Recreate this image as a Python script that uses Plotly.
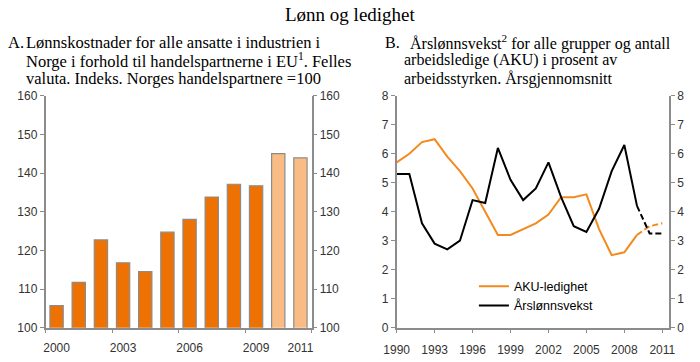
import plotly.graph_objects as go

# ---- data ----
years_a = [2000, 2001, 2002, 2003, 2004, 2005, 2006, 2007, 2008, 2009, 2010, 2011]
lonnskost = [105.7, 111.7, 122.7, 116.8, 114.5, 124.7, 128.0, 133.8, 137.1, 136.7, 145.0, 143.9]
forecast_from_a = 2010
tick_years_a = [2000, 2003, 2006, 2009, 2011]

years_b = list(range(1990, 2012))
aku = [5.7, 6.0, 6.4, 6.5, 5.9, 5.4, 4.8, 4.0, 3.2, 3.2, 3.4, 3.6, 3.9, 4.5, 4.5, 4.6,
       3.4, 2.5, 2.6, 3.2, 3.5, 3.6]
lonnsvekst = [5.3, 5.3, 3.6, 2.9, 2.7, 3.0, 4.4, 4.3, 6.2, 5.1, 4.4, 4.8, 5.7, 4.5, 3.5, 3.3,
              4.1, 5.4, 6.3, 4.2, 3.25, 3.25]
forecast_from_b = 2009
tick_years_b = [1990, 1993, 1996, 1999, 2002, 2005, 2008, 2011]

ORANGE = "#EE7203"
LIGHT = "#F9BC84"
LINE_OR = "#F28A1E"
AX = "#8C8C8C"
TXT = "#333333"
SANS = "Liberation Sans, Arial, sans-serif"
SERIF = "Liberation Serif, Times New Roman, serif"
DASH = "6px,3px"

fig = go.Figure()

colors = [LIGHT if y >= forecast_from_a else ORANGE for y in years_a]
fig.add_trace(go.Bar(x=years_a, y=lonnskost, marker=dict(color=colors, line=dict(color=AX, width=1.2)),
                     width=0.6, showlegend=False, xaxis="x", yaxis="y"))
# helper invisible traces for secondary axes
fig.add_trace(go.Scatter(x=[years_a[0]], y=[lonnskost[0]], mode="markers", marker=dict(opacity=0),
                         showlegend=False, hoverinfo="skip", xaxis="x", yaxis="y3"))
fig.add_trace(go.Scatter(x=[years_a[0]], y=[lonnskost[0]], mode="markers", marker=dict(opacity=0),
                         showlegend=False, hoverinfo="skip", xaxis="x3", yaxis="y"))

i0 = years_b.index(forecast_from_b)
fig.add_trace(go.Scatter(x=years_b[:i0 + 1], y=aku[:i0 + 1], mode="lines", name="AKU-ledighet",
                         line=dict(color=LINE_OR, width=2), xaxis="x2", yaxis="y2"))
fig.add_trace(go.Scatter(x=years_b[i0:], y=aku[i0:], mode="lines", showlegend=False,
                         line=dict(color=LINE_OR, width=2, dash=DASH), xaxis="x2", yaxis="y2"))
fig.add_trace(go.Scatter(x=years_b[:i0 + 1], y=lonnsvekst[:i0 + 1], mode="lines", name="Årslønnsvekst",
                         line=dict(color="#000000", width=2), xaxis="x2", yaxis="y2"))
fig.add_trace(go.Scatter(x=years_b[i0:], y=lonnsvekst[i0:], mode="lines", showlegend=False,
                         line=dict(color="#000000", width=2, dash=DASH), xaxis="x2", yaxis="y2"))
fig.add_trace(go.Scatter(x=[years_b[0]], y=[aku[0]], mode="markers", marker=dict(opacity=0),
                         showlegend=False, hoverinfo="skip", xaxis="x2", yaxis="y4"))

ydom = [0.0948, 0.7356]
common = dict(showgrid=False, zeroline=False, showline=True, linecolor=AX, linewidth=1.5, automargin=False,
              tickcolor=AX, ticklen=4, tickwidth=1, tickfont=dict(family=SANS, size=12, color=TXT))

fig.update_layout(
    width=700, height=362, margin=dict(l=0, r=0, t=0, b=0, autoexpand=False),
    paper_bgcolor="white", plot_bgcolor="white",
    xaxis=dict(domain=[0.065, 0.445], range=[1999.5, 2011.5], tickmode="array", tickvals=tick_years_a,
               ticks="", anchor="y", ticklabelstandoff=8, **common),
    xaxis3=dict(domain=[0.065, 0.445], range=[1999.5, 2011.5], overlaying="x", anchor="y",
                tickmode="linear", tick0=1999.5, dtick=3, ticks="outside", showticklabels=False,
                automargin=False, showgrid=False, zeroline=False, showline=False, tickcolor=AX, ticklen=4),
    yaxis=dict(domain=ydom, range=[100, 160], dtick=10, ticks="outside", anchor="x", **common),
    yaxis3=dict(domain=ydom, range=[100, 160], dtick=10, ticks="outside", anchor="x",
                overlaying="y", side="right", **common),
    xaxis2=dict(domain=[0.5667, 0.9557], range=[1990, 2011.53], tickmode="array", tickvals=tick_years_b,
                ticks="outside", anchor="y2", ticklabelstandoff=6, **common),
    yaxis2=dict(domain=ydom, range=[0, 8], dtick=1, ticks="outside", anchor="x2", **common),
    yaxis4=dict(domain=ydom, range=[0, 8], dtick=1, ticks="outside", anchor="x2",
                overlaying="y2", side="right", **common),
    legend=dict(x=0.677, y=0.25, xanchor="left", yanchor="top", bgcolor="rgba(0,0,0,0)",
                font=dict(family=SANS, size=12.5, color="#000000"), itemwidth=30),
    showlegend=True,
)

def ann(text, x, y, size=16.5, xanchor="left"):
    fig.add_annotation(text=text, x=x / 700, y=1 - y / 362, xref="paper", yref="paper",
                       xanchor=xanchor, yanchor="middle", showarrow=False,
                       font=dict(family=SERIF, size=size, color="#000000"))

ann("Lønn og ledighet", 350, 14, size=19, xanchor="center")
ann("A.", 6, 42)
ann("Lønnskostnader for alle ansatte i industrien i", 24, 42)
ann("Norge i forhold til handelspartnerne i EU<sup>1</sup>. Felles", 24, 60)
ann("valuta. Indeks. Norges handelspartnere =100", 24, 79)
ann("B.", 383, 42, size=16)
ann("Årslønnsvekst<sup>2</sup> for alle grupper og antall", 408, 42, size=16)
ann("arbeidsledige (AKU) i prosent av", 402, 60, size=16)
ann("arbeidsstyrken. Årsgjennomsnitt", 402, 79, size=16)

fig.write_html("out.html", config={"displayModeBar": False},
               post_script="document.body.style.margin='0';document.body.style.overflow='hidden';")
